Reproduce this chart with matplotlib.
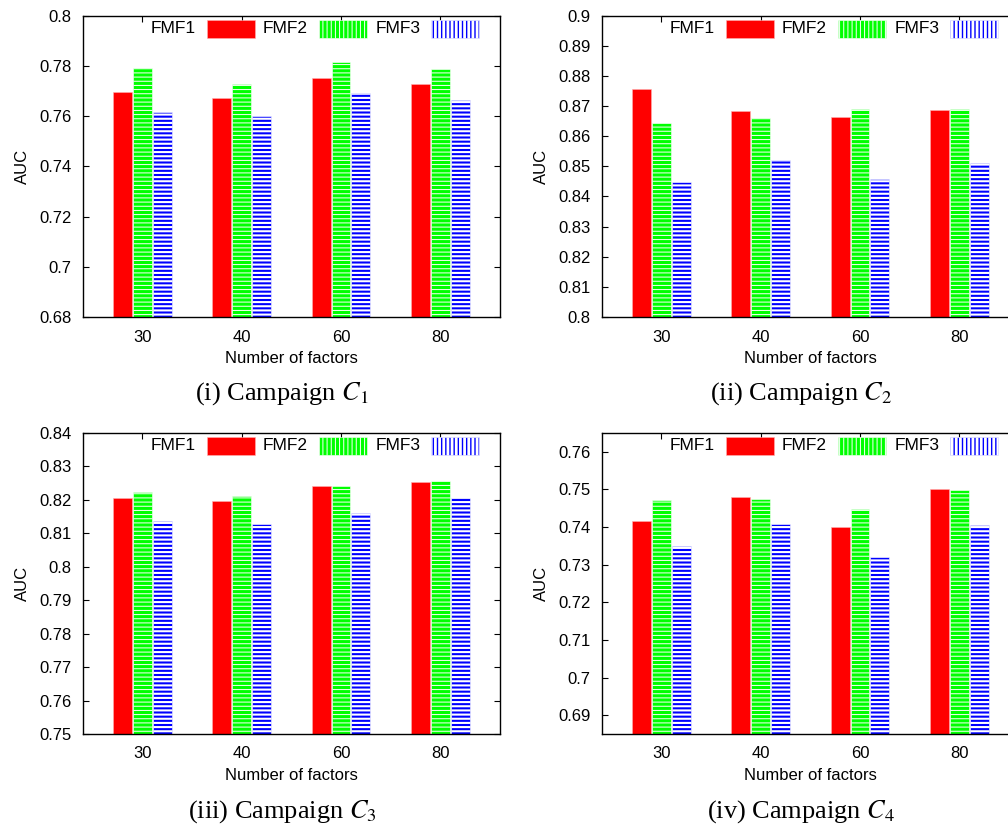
import matplotlib
matplotlib.use("Agg")
import matplotlib.pyplot as plt
from matplotlib.patches import Rectangle
import numpy as np

plt.rcParams['font.family'] = ['Liberation Sans', 'DejaVu Sans']
plt.rcParams['mathtext.fontset'] = 'stix'

# ---------------- data ----------------
factors = ["30", "40", "60", "80"]
series = ["FMF1", "FMF2", "FMF3"]

c1_fmf1 = [0.7695, 0.7674, 0.7751, 0.7728]
c1_fmf2 = [0.7790, 0.7727, 0.7815, 0.7787]
c1_fmf3 = [0.7615, 0.7599, 0.7691, 0.7664]

c2_fmf1 = [0.8758, 0.8685, 0.8663, 0.8687]
c2_fmf2 = [0.8644, 0.8660, 0.8691, 0.8690]
c2_fmf3 = [0.8448, 0.8521, 0.8458, 0.8510]

c3_fmf1 = [0.8205, 0.8196, 0.8241, 0.8253]
c3_fmf2 = [0.8224, 0.8210, 0.8240, 0.8255]
c3_fmf3 = [0.8137, 0.8126, 0.8160, 0.8205]

c4_fmf1 = [0.7415, 0.7480, 0.7399, 0.7500]
c4_fmf2 = [0.7471, 0.7474, 0.7447, 0.7497]
c4_fmf3 = [0.7348, 0.7407, 0.7319, 0.7404]

c1_yticks = [0.68, 0.70, 0.72, 0.74, 0.76, 0.78, 0.80]
c2_yticks = [0.80, 0.81, 0.82, 0.83, 0.84, 0.85, 0.86, 0.87, 0.88, 0.89, 0.90]
c3_yticks = [0.75, 0.76, 0.77, 0.78, 0.79, 0.80, 0.81, 0.82, 0.83, 0.84]
c4_yticks = [0.69, 0.70, 0.71, 0.72, 0.73, 0.74, 0.75, 0.76]

c1_ylim = (0.68, 0.80)
c2_ylim = (0.80, 0.90)
c3_ylim = (0.75, 0.84)
c4_ylim = (0.685, 0.765)

captions = ["(i) Campaign $C_1$", "(ii) Campaign $C_2$",
            "(iii) Campaign $C_3$", "(iv) Campaign $C_4$"]
xlabel = "Number of factors"
ylabel = "AUC"

# ---------------- styles ----------------
RED = '#ff0000'
GREEN = '#00ff00'
BLUE = '#0000ff'

W, H = 1008, 825
fig = plt.figure(figsize=(W / 100, H / 100), dpi=100)

ax_w = 417.3 / W
ax_h = 301.3 / H
positions = [
    (82.7 / W, 1 - 317 / H),
    (601.7 / W, 1 - 317 / H),
    (82.7 / W, 1 - 734 / H),
    (601.7 / W, 1 - 734 / H),
]
caption_pos = [(282 / W, 1 - 394 / H), (801 / W, 1 - 394 / H),
               (282 / W, 1 - 811.7 / H), (801 / W, 1 - 811.7 / H)]

panels = [
    (c1_fmf1, c1_fmf2, c1_fmf3, c1_yticks, c1_ylim),
    (c2_fmf1, c2_fmf2, c2_fmf3, c2_yticks, c2_ylim),
    (c3_fmf1, c3_fmf2, c3_fmf3, c3_yticks, c3_ylim),
    (c4_fmf1, c4_fmf2, c4_fmf3, c4_yticks, c4_ylim),
]


def fmt(v):
    s = f"{v:.2f}".rstrip('0').rstrip('.')
    return s


def hatched_bar(ax, x, h, base, face, hatch, hlw, edge='white', elw=0.4):
    with plt.rc_context({'hatch.linewidth': hlw}):
        bars = ax.bar(x, np.array(h) - base, 0.19, bottom=base, color=face,
                      edgecolor=edge, linewidth=elw, hatch=hatch, zorder=2)
    for b in bars:
        if hatch and hasattr(b, 'set_hatch_linewidth'):
            b.set_hatch_linewidth(hlw)
    return bars


def legend_box(ax, x0, face, hatch, hlw):
    with plt.rc_context({'hatch.linewidth': hlw}):
        r = Rectangle((x0, 0.927), 0.115, 0.06, transform=ax.transAxes,
                      facecolor=face, edgecolor='white' if hatch else '#ffb0b0',
                      linewidth=0.4, hatch=hatch, zorder=5, clip_on=False)
    if hatch and hasattr(r, 'set_hatch_linewidth'):
        r.set_hatch_linewidth(hlw)
    ax.add_patch(r)


for i, (f1, f2, f3, yt, yl) in enumerate(panels):
    ax = fig.add_axes([positions[i][0], positions[i][1], ax_w, ax_h])
    x = np.arange(len(factors))
    base = yl[0]
    ax.bar(x - 0.2, np.array(f1) - base, 0.19, bottom=base, color=RED,
           edgecolor='#ffb0b0', linewidth=0.4, zorder=2)
    hatched_bar(ax, x, f2, base, GREEN, '----', 0.7)
    hatched_bar(ax, x + 0.2, f3, base, BLUE, '----', 1.5)

    ax.set_xlim(-0.6, 3.6)
    ax.set_ylim(*yl)
    ax.set_xticks(x)
    ax.set_xticklabels(factors)
    ax.set_yticks(yt)
    ax.set_yticklabels([fmt(v) for v in yt])
    ax.tick_params(direction='in', length=4, width=0.8, top=True, right=True,
                   labelsize=12, colors='black')
    ax.tick_params(axis='x', pad=9)
    ax.tick_params(axis='y', pad=8)
    for s in ax.spines.values():
        s.set_linewidth(1.0)
    ax.set_xlabel(xlabel, fontsize=12, labelpad=5)
    ax.set_ylabel(ylabel, fontsize=12, labelpad=7)

    # legend (gnuplot style: text then sample)
    ty = 0.957
    ax.text(0.270, ty, series[0], transform=ax.transAxes, ha='right',
            va='center', fontsize=12.5, zorder=6)
    legend_box(ax, 0.298, RED, None, 0.5)
    ax.text(0.540, ty, series[1], transform=ax.transAxes, ha='right',
            va='center', fontsize=12.5, zorder=6)
    legend_box(ax, 0.567, GREEN, '||||', 0.7)
    ax.text(0.809, ty, series[2], transform=ax.transAxes, ha='right',
            va='center', fontsize=12.5, zorder=6)
    legend_box(ax, 0.835, BLUE, '||||', 2.0)

    fig.text(caption_pos[i][0], caption_pos[i][1], captions[i],
             ha='center', va='center', fontsize=19,
             family=['Liberation Serif', 'DejaVu Serif'])

fig.savefig("out.png", dpi=100)
